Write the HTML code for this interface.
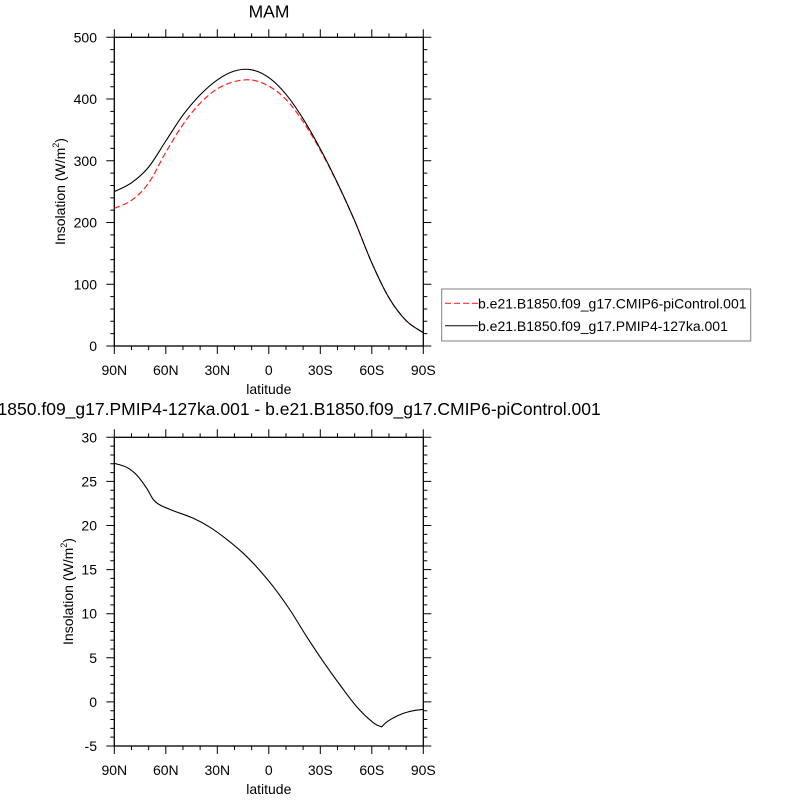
<!DOCTYPE html>
<html><head><meta charset="utf-8"><style>
html,body{margin:0;padding:0;background:#fff;}
svg{display:block;font-family:"Liberation Sans",Arial,sans-serif;}
</style></head><body>
<svg id="s" width="800" height="800" viewBox="0 0 800 800" xmlns="http://www.w3.org/2000/svg">
<rect width="800" height="800" fill="#fff"/>
<text x="269" y="17.5" font-size="17.5" text-anchor="middle">MAM</text>
<text x="269" y="415" font-size="17.5" text-anchor="middle">b.e21.B1850.f09_g17.PMIP4-127ka.001 - b.e21.B1850.f09_g17.CMIP6-piControl.001</text>
<text transform="translate(65,191.5) rotate(-90)" font-size="14" text-anchor="middle">Insolation (W/m<tspan font-size="9" dy="-6">2</tspan><tspan dy="6">)</tspan></text>
<text transform="translate(73,591.5) rotate(-90)" font-size="14" text-anchor="middle">Insolation (W/m<tspan font-size="9" dy="-6">2</tspan><tspan dy="6">)</tspan></text>
<text x="268.8" y="394" font-size="14" text-anchor="middle">latitude</text>
<text x="268.8" y="794" font-size="14" text-anchor="middle">latitude</text>
<g id="g"></g>
<rect x="441.7" y="289" width="309" height="52" fill="none" stroke="#808080" stroke-width="1"/>
<line x1="445" y1="303.3" x2="478" y2="303.3" stroke="#ff3030" stroke-width="1.2" stroke-dasharray="6,3"/>
<line x1="445" y1="325.7" x2="478" y2="325.7" stroke="#222" stroke-width="1.2"/>
<text x="478" y="308.5" font-size="14">b.e21.B1850.f09_g17.CMIP6-piControl.001</text>
<text x="478" y="331" font-size="14">b.e21.B1850.f09_g17.PMIP4-127ka.001</text>
</svg>
<script>
(function(){
var NS="http://www.w3.org/2000/svg",g=document.getElementById("g");
function el(t,a,txt){var e=document.createElementNS(NS,t);for(var k in a)e.setAttribute(k,a[k]);if(txt!=null)e.textContent=txt;g.appendChild(e);return e;}
function smooth(p){var d="M"+p[0][0]+","+p[0][1];for(var i=0;i<p.length-1;i++){var p0=p[i-1]||p[i],p1=p[i],p2=p[i+1],p3=p[i+2]||p2;
var c1=[p1[0]+(p2[0]-p0[0])/6,p1[1]+(p2[1]-p0[1])/6],c2=[p2[0]-(p3[0]-p1[0])/6,p2[1]-(p3[1]-p1[1])/6];
d+=" C"+c1[0].toFixed(2)+","+c1[1].toFixed(2)+" "+c2[0].toFixed(2)+","+c2[1].toFixed(2)+" "+p2[0]+","+p2[1];}return d;}
var X0=114.3,X1=423.3,xl=["90N","60N","30N","0","30S","60S","90S"];
function frame(T,B,vmin,vmax,minStep,majStep,lbY){
 var d="";
 for(var i=0;i<=18;i++){var x=X0+i*(X1-X0)/18,L=(i%3==0)?8:4;d+="M"+x+","+T+"v"+(-L)+"M"+x+","+B+"v"+L;
  if(i%3==0)el("text",{x:x,y:lbY,"font-size":14,"text-anchor":"middle"},xl[i/3]);}
 var n=Math.round((vmax-vmin)/minStep);
 for(var j=0;j<=n;j++){var v=vmin+j*minStep,y=B-(v-vmin)/(vmax-vmin)*(B-T);var maj=Math.abs(v/majStep-Math.round(v/majStep))<1e-6;var L=maj?8:4;
  d+="M"+X0+","+y+"h"+(-L)+"M"+X1+","+y+"h"+L;
  if(maj)el("text",{x:97,y:y+5,"font-size":14,"text-anchor":"end"},String(Math.round(v)));}
 el("path",{d:d,stroke:"#000","stroke-width":1,fill:"none"});
 el("rect",{x:X0,y:T,width:X1-X0,height:B-T,fill:"none",stroke:"#000","stroke-width":1.3});
}
frame(37.3,346,0,500,20,100,375);
frame(437.3,746,-5,30,1,5,775);
function grid(vals){var r=[];for(var i=0;i<vals.length;i++)r.push([+(X0+i*(X1-X0)/18).toFixed(2),vals[i]]);return r;}
var blkV=[191.7,182.8,167.1,141,115.1,94.9,79.9,71,69.8,77.6,94.3,118.8,148.9,183,220.7,262.9,297.8,320.6,332.7];
var redV=[208.3,200.4,183,152.3,124.5,103.2,88.9,81.6,80,86.1,99.4,121.7,150.2,183.5,220.9,262.9,297.8,320.6,332.7];
var dif1=[[114.3,463.3],[126.7,467.3],[136.7,475],[146.7,488.3],[153.3,499.5],[160,505],[173.3,510.7],[193.3,518.3],[210,527.3],[226.7,539.3],[243.3,553.3],[256.7,567],[273.3,586.7],[290,610],[306.7,636.7],[323.3,661.7],[340,685],[356.7,706.7],[373.3,722.7],[381.7,726.9]];
var dif2=[[381.7,726.9],[386,722.6],[391,719.2],[396.7,716.2],[404,713.1],[413.3,710.7],[423.3,709.3]];
el("path",{d:smooth(grid(redV)),stroke:"#ff2020","stroke-width":1.2,fill:"none","stroke-dasharray":"6,3"});
el("path",{d:smooth(grid(blkV)),stroke:"#000","stroke-width":1.1,fill:"none"});
el("path",{d:smooth(dif1)+" "+smooth(dif2).replace(/^M[^ ]+/,""),stroke:"#000","stroke-width":1.1,fill:"none","stroke-linejoin":"miter"});
})();
</script>
</body></html>
